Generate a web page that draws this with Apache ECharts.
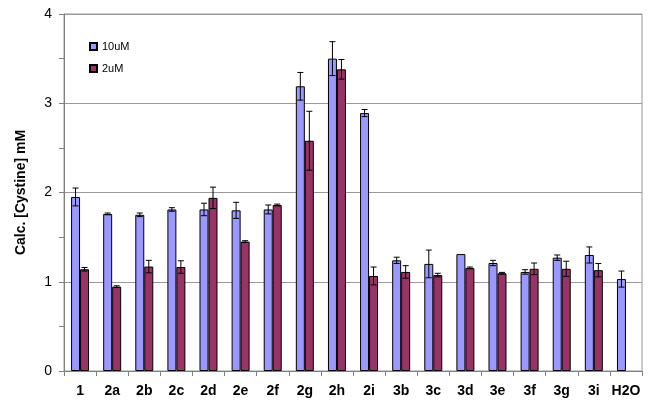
<!DOCTYPE html>
<html><head><meta charset="utf-8">
<script src="https://cdn.jsdelivr.net/npm/echarts@6/dist/echarts.min.js"></script>
<style>html,body{margin:0;padding:0;background:#fff}#c{width:651px;height:407px}</style>
</head><body><div id="c"></div>
<script>
const categories = ['1','2a','2b','2c','2d','2e','2f','2g','2h','2i','3b','3c','3d','3e','3f','3g','3i','H2O'];
const val10 = [1.95,1.76,1.75,1.81,1.81,1.80,1.81,3.19,3.50,2.89,1.24,1.20,1.31,1.21,1.11,1.27,1.30,1.03];
const err10 = [0.10,0.01,0.02,0.02,0.07,0.09,0.05,0.155,0.19,0.04,0.035,0.155,0,0.03,0.025,0.03,0.09,0.09];
const val2 = [1.14,0.945,1.17,1.165,1.94,1.45,1.86,2.58,3.38,1.065,1.11,1.075,1.155,1.095,1.145,1.145,1.13,null];
const err2 = [0.02,0.01,0.07,0.07,0.12,0.01,0.01,0.33,0.11,0.10,0.07,0.02,0.01,0.01,0.065,0.085,0.075,null];
const seriesNames = ['10uM','2uM'];
const yTicks = [0,1,2,3,4];

const BAR_FRAC = 0.28;
function errSeries(vals, errs, sign){
  const data = [];
  vals.forEach((v,i)=>{ if(v!=null && errs[i]) data.push([i, v, errs[i]]); });
  return {
    type:'custom', z:5, silent:true,
    data: data,
    renderItem: function(params, api){
      const i = api.value(0), v = api.value(1), e = api.value(2);
      const band = api.size([1,0])[0];
      const dx = sign*band*BAR_FRAC/2;
      const top = api.coord([i, v+e]);
      const bot = api.coord([i, v-e]);
      const x = top[0]+dx;
      const cap = 3;
      const st = {stroke:'#000', lineWidth:1};
      return {type:'group', children:[
        {type:'line', shape:{x1:x,y1:top[1],x2:x,y2:bot[1]}, style:st},
        {type:'line', shape:{x1:x-cap,y1:top[1],x2:x+cap,y2:top[1]}, style:st},
        {type:'line', shape:{x1:x-cap,y1:bot[1],x2:x+cap,y2:bot[1]}, style:st}
      ]};
    }
  };
}

const chart = echarts.init(document.getElementById('c'), null, {renderer:'canvas'});
chart.setOption({
  animation:false,
  textStyle:{fontFamily:'Liberation Sans, Arial, sans-serif'},
  grid:{left:64, right:9, top:14, bottom:36, show:true, borderColor:'#999', borderWidth:1},
  legend:{
    orient:'vertical', left:84, top:36, itemWidth:7, itemHeight:7, itemGap:11,
    icon:'rect', data:seriesNames,
    textStyle:{fontSize:11, color:'#000', fontFamily:'Liberation Sans, Arial, sans-serif'}
  },
  xAxis:{
    type:'category', data:categories,
    axisLine:{lineStyle:{color:'#808080'}},
    axisTick:{show:true, alignWithLabel:false, interval:0, length:5, lineStyle:{color:'#808080'}},
    axisLabel:{interval:0, fontSize:14, fontWeight:'bold', color:'#000', margin:13}
  },
  yAxis:{
    type:'value', min:yTicks[0], max:yTicks[yTicks.length-1], interval:1,
    name:'Calc. [Cystine] mM', nameLocation:'middle', nameGap:36, nameRotate:90,
    nameTextStyle:{fontSize:14, fontWeight:'bold', color:'#000'},
    axisLine:{show:true, lineStyle:{color:'#808080'}},
    axisTick:{show:true, length:5, lineStyle:{color:'#808080'}},
    minorTick:{show:true, splitNumber:2, length:5, lineStyle:{color:'#808080'}},
    splitLine:{lineStyle:{color:'#999'}},
    axisLabel:{fontSize:14, color:'#000', margin:12}
  },
  series:[
    {name:seriesNames[0], type:'bar', data:val10, barWidth:(BAR_FRAC*100)+'%', barGap:'0%',
     itemStyle:{color:'#9999FF', borderColor:'#000', borderWidth:1}},
    {name:seriesNames[1], type:'bar', data:val2, barWidth:(BAR_FRAC*100)+'%', barGap:'0%',
     itemStyle:{color:'#993366', borderColor:'#000', borderWidth:1}},
    errSeries(val10, err10, -1),
    errSeries(val2, err2, 1)
  ]
});
</script></body></html>
